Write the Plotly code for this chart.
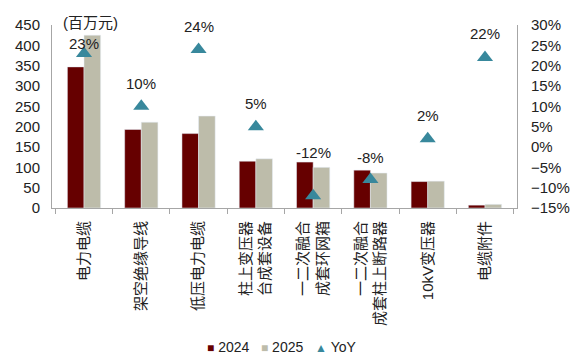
import plotly.graph_objects as go

categories = ["电力电缆", "架空绝缘导线", "低压电力电缆", "柱上变压器<br>台成套设备",
              "一二次融合<br>成套环网箱", "一二次融合<br>成套柱上断路器", "10kV变压器", "电缆附件"]
v2024 = [347, 193, 183, 115, 113, 93, 65, 7]
v2025 = [425, 211, 226, 121, 100, 86, 66, 9]
yoy = [23, 10, 24, 5, -12, -8, 2, 22]
yoy_labels = ["23%", "10%", "24%", "5%", "-12%", "-8%", "2%", "22%"]
series_names = ["2024", "2025", "YoY"]

label_shift = [10, 23, 23, 23, 43, 22, 23, 24]

FONT = "Liberation Sans, Arial, Noto Sans CJK SC, sans-serif"
AX = "#A6A6A6"
C24, C25, CY = "#660000", "#BDBCAA", "#38889C"

fig = go.Figure()
fig.add_trace(go.Bar(x=categories, y=v2024, name=series_names[0], marker_color=C24))
fig.add_trace(go.Bar(x=categories, y=v2025, name=series_names[1], marker_color=C25))
fig.add_trace(go.Scatter(x=categories, y=yoy, name=series_names[2], mode="markers", yaxis="y2",
                         marker=dict(symbol="triangle-up", size=14, color=CY)))

annotations = []
for c, v, t, s in zip(categories, yoy, yoy_labels, label_shift):
    annotations.append(dict(x=c, y=v, xref="x", yref="y2", text=t, showarrow=False,
                            yshift=s, font=dict(size=15, color="#222")))
annotations.append(dict(x=0.019, y=1.011, xref="paper", yref="paper", xanchor="left",
                        yanchor="middle", text="(百万元)", showarrow=False,
                        font=dict(size=15, color="#222")))

sym = "<span style='color:{c};font-size:12px'>{s}</span>&nbsp;"
gap = "&nbsp;&nbsp;&nbsp;"
legend_text = (sym.format(c=C24, s="■") + series_names[0] + gap +
               sym.format(c=C25, s="■") + series_names[1] + gap +
               sym.format(c=CY, s="▲") + series_names[2])
annotations.append(dict(x=0.495, y=-0.76, xref="paper", yref="paper", xanchor="center",
                        yanchor="middle", text=legend_text, showarrow=False,
                        font=dict(size=14, color="#222")))

# page body has an 8px margin, so the figure is sized to fit the 583x361 window
fig.update_layout(
    width=575, height=353,
    margin=dict(l=44, r=66, t=17, b=153, autoexpand=False),
    paper_bgcolor="white", plot_bgcolor="white",
    font=dict(family=FONT, size=15, color="#222"),
    barmode="group", bargap=0.42, bargroupgap=0,
    showlegend=False,
    xaxis=dict(type="category", tickangle=-90, showline=True, linecolor=AX,
               ticks="outside", tickson="boundaries", ticklen=5, tickcolor=AX,
               tickfont=dict(size=15), showgrid=False, ticklabelstandoff=6,
               automargin=False),
    yaxis=dict(range=[0, 450], dtick=50, showline=True, linecolor=AX, showgrid=False,
               zeroline=False, ticks="", tickfont=dict(size=15), ticklabelstandoff=8,
               automargin=False),
    yaxis2=dict(range=[-15, 30], dtick=5, overlaying="y", side="right", showline=True,
                linecolor=AX, showgrid=False, zeroline=False, ticksuffix="%",
                tickfont=dict(size=15), ticklabelstandoff=10, automargin=False),
    annotations=annotations,
)

fig.write_html("out.html")
